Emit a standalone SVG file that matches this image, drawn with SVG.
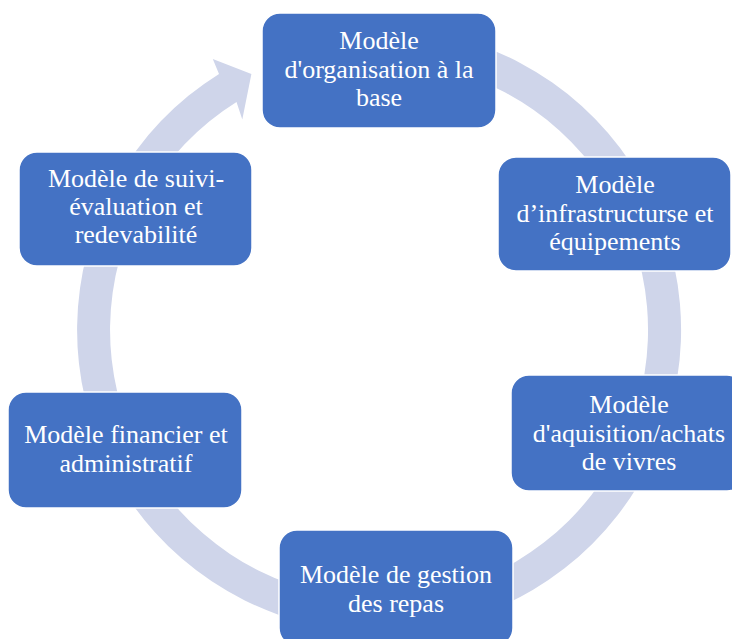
<svg xmlns="http://www.w3.org/2000/svg" width="732" height="639" viewBox="0 0 732 639">
  <style>
    .box { fill: #4472C4; stroke: #ffffff; stroke-width: 1.5; }
    .lbl { fill: #ffffff; font-family: "Liberation Serif", "DejaVu Serif", serif; font-size: 26px; text-anchor: middle; }
    .ring { fill: #CFD5EA; }
  </style>
  <rect width="732" height="639" fill="#ffffff"/>

  <!-- continuous cycle ring with a single arrowhead -->
  <g id="connectors">
    <path class="ring" d="M300.8,38.3 A302,302 0 1 1 219.0,73.9 L212.8,58.9 L251.4,74.1 L242.3,119.5 L236.5,101.9 A269,269 0 1 0 309.4,70.2 Z"/>
  </g>

  <g id="node-organisation">
    <rect class="box" x="262" y="13" width="234" height="115" rx="18"/>
    <text class="lbl" x="379" y="49">Modèle</text>
    <text class="lbl" x="379" y="77.5">d'organisation à la</text>
    <text class="lbl" x="379" y="106">base</text>
  </g>

  <g id="node-infrastructure">
    <rect class="box" x="498" y="157" width="233" height="114" rx="18"/>
    <text class="lbl" x="615" y="193">Modèle</text>
    <text class="lbl" x="615" y="222">d’infrastructurse et</text>
    <text class="lbl" x="615" y="250">équipements</text>
  </g>

  <g id="node-acquisition">
    <rect class="box" x="511" y="375" width="234" height="116" rx="18"/>
    <text class="lbl" x="629" y="413">Modèle</text>
    <text class="lbl" x="629" y="442">d'aquisition/achats</text>
    <text class="lbl" x="629" y="470">de vivres</text>
  </g>

  <g id="node-repas">
    <rect class="box" x="279" y="530" width="234" height="116" rx="18"/>
    <text class="lbl" x="396" y="583">Modèle de gestion</text>
    <text class="lbl" x="396" y="612">des repas</text>
  </g>

  <g id="node-financier">
    <rect class="box" x="8" y="392" width="234" height="116" rx="18"/>
    <text class="lbl" x="126" y="443">Modèle financier et</text>
    <text class="lbl" x="126" y="472">administratif</text>
  </g>

  <g id="node-suivi">
    <rect class="box" x="19" y="152" width="233" height="114" rx="18"/>
    <text class="lbl" x="136" y="187">Modèle de suivi-</text>
    <text class="lbl" x="136" y="215">évaluation et</text>
    <text class="lbl" x="136" y="243">redevabilité</text>
  </g>
</svg>
